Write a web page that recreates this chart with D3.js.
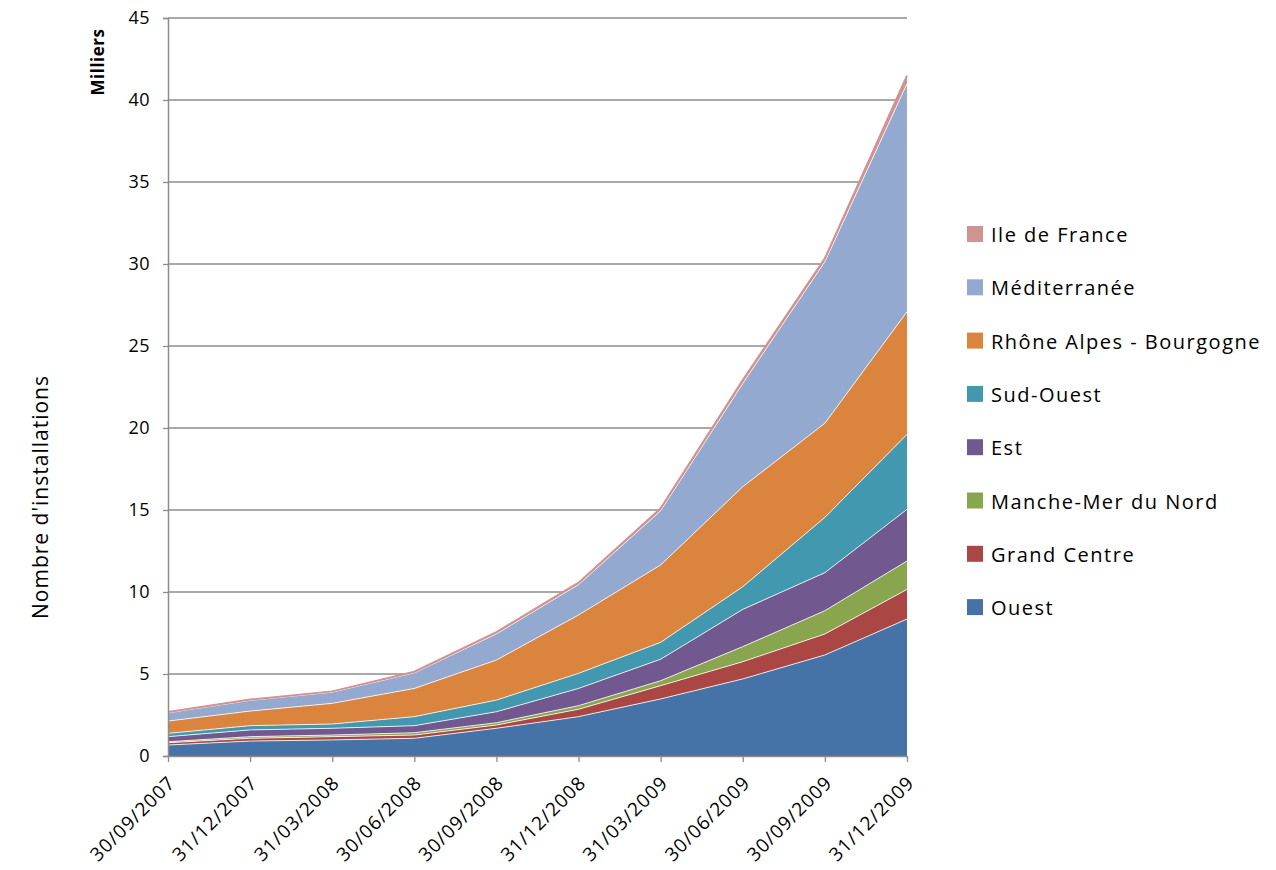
<!DOCTYPE html>
<html><head><meta charset="utf-8">
<script src="https://cdn.jsdelivr.net/npm/d3@7"></script>
<style>body{margin:0;background:#fff}svg{display:block}</style>
</head><body>
<svg id="c" width="1276" height="870"></svg>
<script>
const dates = ["30/09/2007","31/12/2007","31/03/2008","30/06/2008","30/09/2008","31/12/2008","31/03/2009","30/06/2009","30/09/2009","31/12/2009"];
const seriesNames = ["Ouest","Grand Centre","Manche-Mer du Nord","Est","Sud-Ouest","Rhône Alpes - Bourgogne","Méditerranée","Ile de France"];
const ouest       = [0.67,0.91,0.98,1.08,1.69,2.40,3.48,4.70,6.16,8.35];
const grandCentre = [0.14,0.17,0.20,0.20,0.20,0.45,0.81,1.05,1.28,1.81];
const manche      = [0.06,0.10,0.10,0.14,0.14,0.22,0.30,0.92,1.42,1.73];
const est         = [0.31,0.41,0.41,0.43,0.67,1.05,1.31,2.27,2.32,3.15];
const sudOuest    = [0.20,0.26,0.26,0.55,0.71,0.92,1.03,1.38,3.37,4.57];
const rhone       = [0.75,0.89,1.26,1.72,2.44,3.56,4.72,6.10,5.74,7.48];
const medit       = [0.50,0.65,0.68,0.95,1.60,1.85,3.30,6.30,9.85,13.90];
const idf         = [0.05,0.05,0.05,0.07,0.10,0.12,0.15,0.20,0.20,0.50];
const yTicks = [0,5,10,15,20,25,30,35,40,45];
const colors = ["#4572A7","#AA4643","#89A54E","#71588F","#4198AF","#DB843D","#93A9CF","#D19392"];

const allSeries = [ouest,grandCentre,manche,est,sudOuest,rhone,medit,idf];
const table = dates.map((d,i)=>{const o={date:d}; seriesNames.forEach((n,j)=>o[n]=allSeries[j][i]); return o;});

const svg = d3.select("#c");
const font = "'Open Sans', 'Liberation Sans', sans-serif";
const L=168, R=907, T=18, B=756;
const x = d3.scalePoint().domain(dates).range([L,R]);
const y = d3.scaleLinear().domain([0,45]).range([B,T]);

// grid
svg.append("g").selectAll("line").data(yTicks.filter(t=>t>0)).join("line")
  .attr("x1",L).attr("x2",R).attr("y1",d=>y(d)).attr("y2",d=>y(d))
  .attr("stroke","#8c8c8c").attr("stroke-width",1.3);

const stack = d3.stack().keys(seriesNames)(table);
const area = d3.area().x(d=>x(d.data.date)).y0(d=>y(d[0])).y1(d=>y(d[1]));
const line = d3.line().x(d=>x(d.data.date)).y(d=>y(d[1]));
svg.append("g").selectAll("path").data(stack).join("path")
  .attr("d",area).attr("fill",(d,i)=>colors[i]);
svg.append("g").selectAll("path").data(stack).join("path")
  .attr("d",line).attr("fill","none")
  .attr("stroke",(d,i)=>i===7?colors[7]:"#ffffff")
  .attr("stroke-width",(d,i)=>i===7?2:1).attr("stroke-opacity",(d,i)=>i===7?1:0.8);

// y axis
const ya = svg.append("g").attr("transform",`translate(${L},0)`)
  .call(d3.axisLeft(y).tickValues(yTicks).tickSize(5).tickPadding(13).tickFormat(d3.format("d")));
ya.select(".domain").attr("stroke","#8c8c8c").attr("stroke-width",1.5);
ya.selectAll(".tick line").attr("stroke","#8c8c8c").attr("stroke-width",1.3);
ya.selectAll("text").attr("font-family",font).attr("font-size",18).attr("fill","#000")
  .attr("letter-spacing",0.5);

// x axis
const xa = svg.append("g").attr("transform",`translate(0,${B})`)
  .call(d3.axisBottom(x).tickSize(6).tickSizeOuter(0));
xa.select(".domain").attr("stroke","#8c8c8c").attr("stroke-width",1.5);
xa.selectAll(".tick line").attr("stroke","#8c8c8c").attr("stroke-width",1.3);
xa.selectAll("text").attr("font-family",font).attr("font-size",19).attr("fill","#000")
  .attr("letter-spacing",1)
  .attr("text-anchor","end").attr("dy",0).attr("y",0)
  .attr("transform","translate(8,28) rotate(-45)");

// axis titles
svg.append("text").attr("transform","translate(104,62) rotate(-90)")
  .attr("text-anchor","middle").attr("font-family",font).attr("font-weight","bold")
  .attr("font-size",17).attr("letter-spacing",0.5).text("Milliers");
svg.append("text").attr("transform","translate(48,497) rotate(-90)")
  .attr("text-anchor","middle").attr("font-family",font)
  .attr("font-size",21).attr("letter-spacing",1).text("Nombre d'installations");

// legend
const legOrder = seriesNames.map((n,i)=>({n,c:colors[i]})).reverse();
const lg = svg.append("g").selectAll("g").data(legOrder).join("g")
  .attr("transform",(d,i)=>`translate(967,${234+i*53.3})`);
lg.append("rect").attr("x",0).attr("y",-8).attr("width",16).attr("height",16).attr("fill",d=>d.c);
lg.append("text").attr("x",24).attr("y",8).attr("font-family",font).attr("font-size",20)
  .attr("letter-spacing",1.5).text(d=>d.n);
</script>
</body></html>
